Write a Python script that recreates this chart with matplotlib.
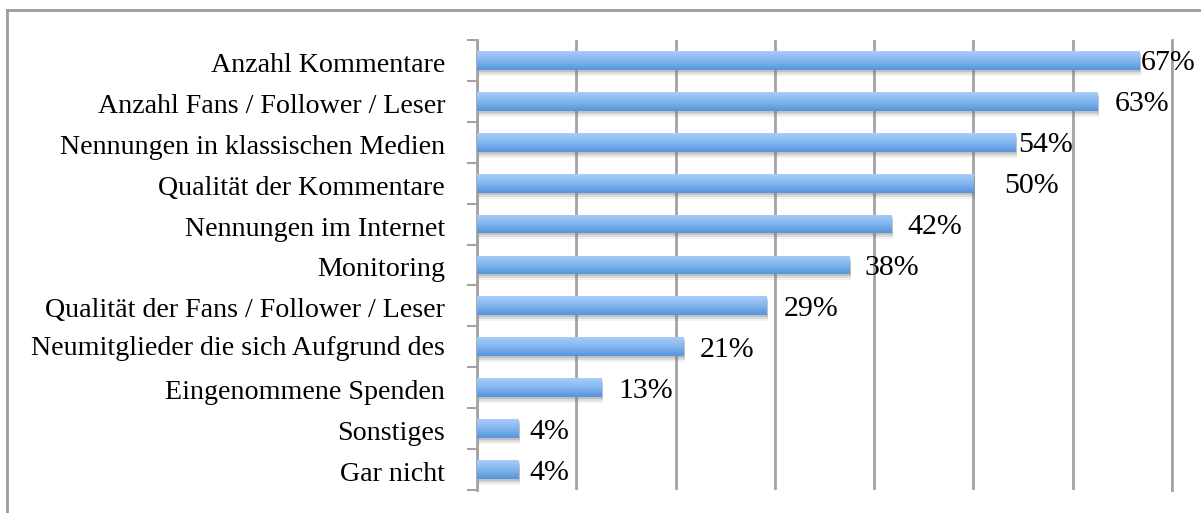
import numpy as np
import matplotlib
matplotlib.use("Agg")
import matplotlib.pyplot as plt
from matplotlib.colors import LinearSegmentedColormap
from matplotlib.lines import Line2D
from matplotlib import transforms

# data (top to bottom, as in the chart)
categories = [
    "Anzahl Kommentare",
    "Anzahl Fans / Follower / Leser",
    "Nennungen in klassischen Medien",
    "Qualität der Kommentare",
    "Nennungen im Internet",
    "Monitoring",
    "Qualität der Fans / Follower / Leser",
    "Neumitglieder die sich Aufgrund des",
    "Eingenommene Spenden",
    "Sonstiges",
    "Gar nicht",
]
values = [66.7, 62.5, 54.2, 50.0, 41.7, 37.5, 29.2, 20.8, 12.5, 4.2, 4.2]
value_labels = ["67%", "63%", "54%", "50%", "42%", "38%", "29%", "21%", "13%", "4%", "4%"]
label_pad_px = [2, 17, 3, 31, 16, 15, 17, 16, 17, 11, 11]

plt.rcParams['font.family'] = ['Liberation Serif', 'DejaVu Serif']
GRID = "#a3a3a3"

fig = plt.figure(figsize=(12.01, 5.13), dpi=100)
ax = fig.add_axes([477 / 1201, 1 - 490 / 513, (1172 - 477) / 1201, 450 / 513])

n = len(categories)
ypos = np.arange(n)[::-1]
h = 0.46

# soft shadow under the bars
for dy, a in [(-6, 0.10), (-4, 0.18), (-2, 0.25)]:
    tr = transforms.offset_copy(ax.transData, fig=fig, x=1.5, y=dy, units='dots')
    ax.barh(ypos, values, height=h, color="#777777", alpha=a, transform=tr,
            linewidth=0, zorder=2)

bars = ax.barh(ypos, values, height=h, color="#5e9ae0", linewidth=0, zorder=3)

cmap = LinearSegmentedColormap.from_list("barblue", ["#5694dc", "#82b6ee", "#a8cdf8"])
grad = np.linspace(0, 1, 64).reshape(-1, 1)
for b, y, v in zip(bars, ypos, values):
    im = ax.imshow(grad, extent=(0, v, y - h / 2, y + h / 2), origin='lower',
                   aspect='auto', cmap=cmap, zorder=4)
    im.set_clip_path(b)

for y, v, lab, pad in zip(ypos, values, value_labels, label_pad_px):
    tr = transforms.offset_copy(ax.transData, fig=fig, x=pad, y=-3, units='dots')
    ax.text(v, y, lab, transform=tr, va='center', ha='left', fontsize=21.5, zorder=5)

ax.set_xlim(0, 70)
ax.set_ylim(-0.5, n - 0.5)
ax.set_xticks(np.arange(0, 71, 10))
ax.tick_params(axis='x', length=0, labelbottom=False)
ax.grid(axis='x', color=GRID, linewidth=2, zorder=0)
ax.set_axisbelow(True)

ax.set_yticks(ypos)
ax.set_yticklabels(categories, fontsize=20.2)
ax.tick_params(axis='y', which='major', length=0, pad=23)
ax.set_yticks(np.arange(-0.5, n, 1), minor=True)
ax.tick_params(axis='y', which='minor', length=7.5, width=1.5, color=GRID)

# nudge category labels down a bit; the cut-off one sits higher
for lbl in ax.get_yticklabels():
    dy = 1 if lbl.get_text().startswith("Neumitglieder") else -2
    lbl.set_transform(lbl.get_transform() +
                      transforms.ScaledTranslation(0, dy / 100, fig.dpi_scale_trans))

for s in ['top', 'bottom']:
    ax.spines[s].set_visible(False)
for s in ['left', 'right']:
    ax.spines[s].set_color(GRID)
    ax.spines[s].set_linewidth(2)

# outer frame (only top and left visible in the crop)
fig.add_artist(Line2D([7 / 1201, 1.0], [1 - 10 / 513] * 2, transform=fig.transFigure,
                      color="#9c9c9c", linewidth=2))
fig.add_artist(Line2D([7 / 1201] * 2, [0.0, 1 - 10 / 513], transform=fig.transFigure,
                      color="#9c9c9c", linewidth=2))

fig.savefig("out.png", dpi=100)
